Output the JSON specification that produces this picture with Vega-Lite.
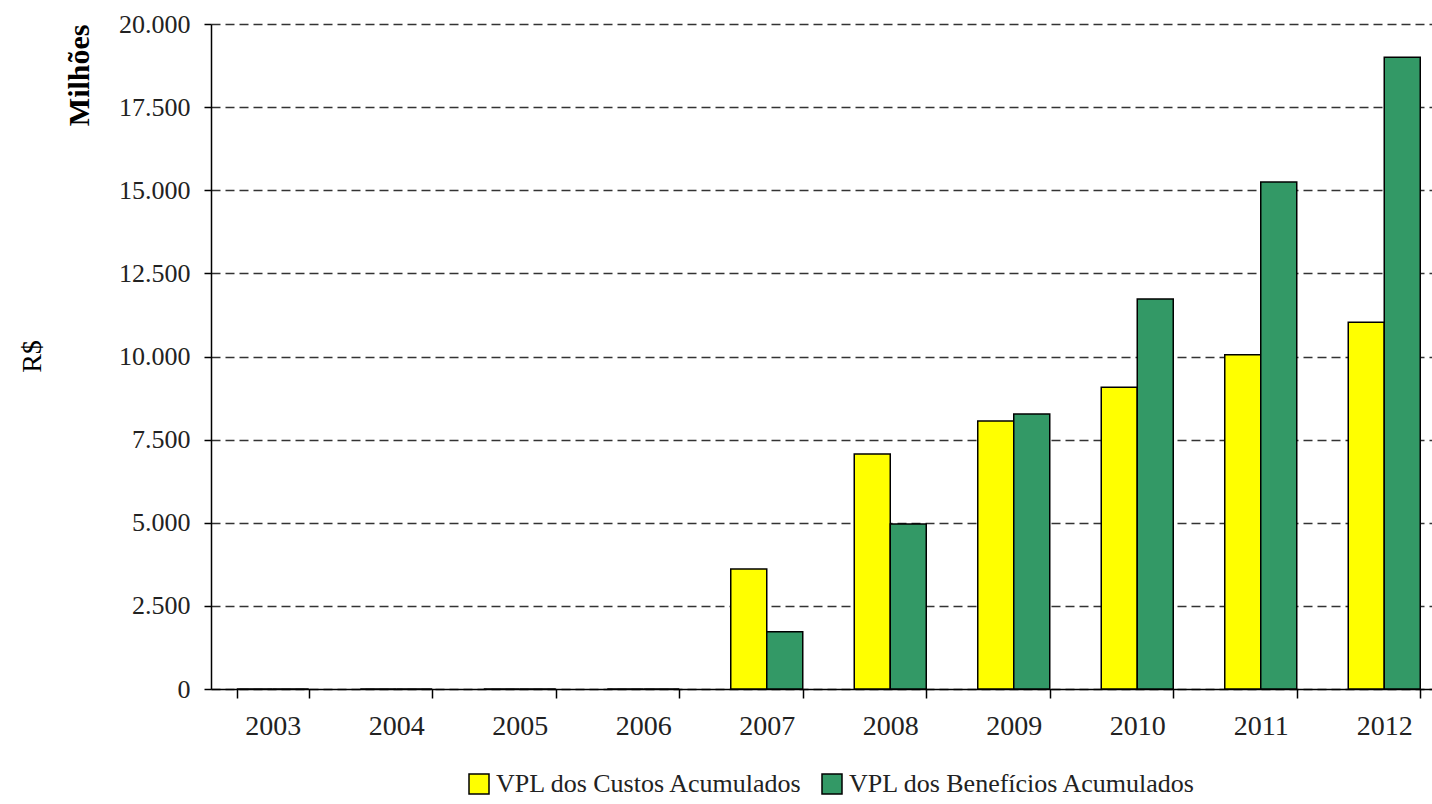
{
  "$schema": "https://vega.github.io/schema/vega-lite/v6.json",
  "width": 1221,
  "height": 665,
  "autosize": "none",
  "padding": {"left": 211, "top": 24, "right": 0, "bottom": 115},
  "background": "white",
  "title": {
    "text": "R$",
    "orient": "left",
    "anchor": "middle",
    "font": "Liberation Serif",
    "fontSize": 28,
    "fontWeight": "normal",
    "color": "black",
    "offset": 18
  },
  "config": {
    "locale": {"number": {"decimal": ",", "thousands": ".", "grouping": [3], "currency": ["R$ ", ""]}},
    "view": {"stroke": null}
  },
  "data": {
    "values": [
      {"ano": "2003", "serie": "VPL dos Custos Acumulados", "valor": 0},
      {"ano": "2003", "serie": "VPL dos Benefícios Acumulados", "valor": 0},
      {"ano": "2004", "serie": "VPL dos Custos Acumulados", "valor": 0},
      {"ano": "2004", "serie": "VPL dos Benefícios Acumulados", "valor": 0},
      {"ano": "2005", "serie": "VPL dos Custos Acumulados", "valor": 0},
      {"ano": "2005", "serie": "VPL dos Benefícios Acumulados", "valor": 0},
      {"ano": "2006", "serie": "VPL dos Custos Acumulados", "valor": 0},
      {"ano": "2006", "serie": "VPL dos Benefícios Acumulados", "valor": 0},
      {"ano": "2007", "serie": "VPL dos Custos Acumulados", "valor": 3610},
      {"ano": "2007", "serie": "VPL dos Benefícios Acumulados", "valor": 1720},
      {"ano": "2008", "serie": "VPL dos Custos Acumulados", "valor": 7070},
      {"ano": "2008", "serie": "VPL dos Benefícios Acumulados", "valor": 4960},
      {"ano": "2009", "serie": "VPL dos Custos Acumulados", "valor": 8060},
      {"ano": "2009", "serie": "VPL dos Benefícios Acumulados", "valor": 8270},
      {"ano": "2010", "serie": "VPL dos Custos Acumulados", "valor": 9075},
      {"ano": "2010", "serie": "VPL dos Benefícios Acumulados", "valor": 11730},
      {"ano": "2011", "serie": "VPL dos Custos Acumulados", "valor": 10050},
      {"ano": "2011", "serie": "VPL dos Benefícios Acumulados", "valor": 15250},
      {"ano": "2012", "serie": "VPL dos Custos Acumulados", "valor": 11030},
      {"ano": "2012", "serie": "VPL dos Benefícios Acumulados", "valor": 19000}
    ]
  },
  "mark": {"type": "bar", "stroke": "black", "strokeWidth": 1.5},
  "encoding": {
    "x": {
      "field": "ano",
      "type": "ordinal",
      "scale": {"range": [0, 1235], "paddingInner": 0.417, "paddingOuter": 0.2085},
      "axis": {
        "title": null,
        "labelAngle": 0,
        "labelFont": "Liberation Serif",
        "labelFontSize": 28,
        "labelColor": "#222",
        "labelPadding": 14,
        "tickBand": "extent",
        "tickSize": 9,
        "tickColor": "black",
        "tickWidth": 1.5,
        "domainColor": "black",
        "domainWidth": 1.5,
        "grid": false
      }
    },
    "xOffset": {
      "field": "serie",
      "sort": ["VPL dos Custos Acumulados", "VPL dos Benefícios Acumulados"]
    },
    "y": {
      "field": "valor",
      "type": "quantitative",
      "scale": {"domain": [0, 20000], "nice": false},
      "axis": {
        "title": "Milhões",
        "titleAnchor": "end",
        "titleFont": "Liberation Serif",
        "titleFontSize": 30,
        "titleFontWeight": "bold",
        "titleColor": "black",
        "titlePadding": 24,
        "values": [0, 2500, 5000, 7500, 10000, 12500, 15000, 17500, 20000],
        "format": ",d",
        "labelFont": "Liberation Serif",
        "labelFontSize": 26,
        "labelColor": "#222",
        "labelPadding": 14,
        "tickSize": 7,
        "tickColor": "black",
        "tickWidth": 1.5,
        "domainColor": "black",
        "domainWidth": 1.5,
        "grid": true,
        "gridColor": "#333",
        "gridDash": [9, 5],
        "gridWidth": 1.5
      }
    },
    "color": {
      "field": "serie",
      "type": "nominal",
      "sort": ["VPL dos Custos Acumulados", "VPL dos Benefícios Acumulados"],
      "scale": {"domain": ["VPL dos Custos Acumulados", "VPL dos Benefícios Acumulados"], "range": ["#FFFF00", "#339966"]},
      "legend": {
        "title": null,
        "orient": "none",
        "legendX": 255,
        "legendY": 747,
        "direction": "horizontal",
        "symbolType": "square",
        "symbolSize": 400,
        "symbolStrokeColor": "black",
        "symbolStrokeWidth": 1.5,
        "symbolOpacity": 1,
        "labelFont": "Liberation Serif",
        "labelFontSize": 26,
        "labelColor": "#222",
        "labelOffset": 4,
        "labelLimit": 500,
        "columnPadding": 16
      }
    }
  }
}
